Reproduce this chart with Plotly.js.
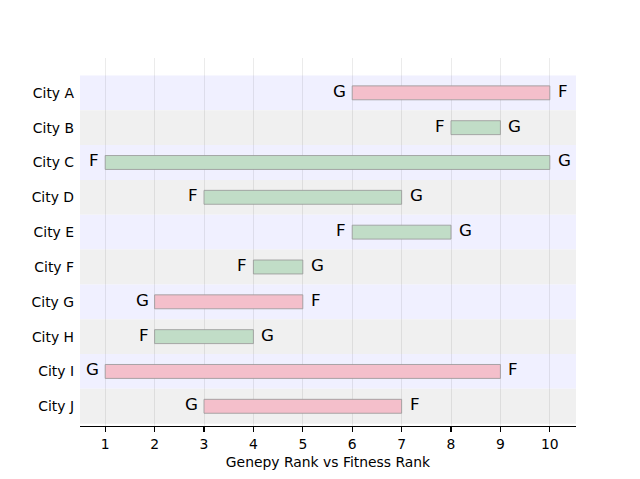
<!DOCTYPE html>
<html>
<head>
<meta charset="utf-8">
<script src="https://cdn.plot.ly/plotly-3.0.1.min.js"></script>
<style>html,body{margin:0;padding:0;background:#fff;}#chart{width:640px;height:479px;}</style>
</head>
<body>
<div id="chart"></div>
<script>
const cities = ["City A","City B","City C","City D","City E","City F","City G","City H","City I","City J"];
const genepyRank = [6, 9, 10, 7, 8, 5, 2, 4, 1, 3];
const fitnessRank = [10, 8, 1, 3, 6, 4, 5, 2, 9, 7];
const xTicks = [1,2,3,4,5,6,7,8,9,10];

const pink = "rgba(244,191,203,1)";
const green = "rgba(193,221,199,1)";
const bandColors = ["#f0f0ff", "#f0f0f0"];

const n = cities.length;
// City A at top
const ypos = cities.map((c, i) => n - 1 - i);

const base = cities.map((c, i) => Math.min(genepyRank[i], fitnessRank[i]));
const len = cities.map((c, i) => Math.abs(genepyRank[i] - fitnessRank[i]));
const colors = cities.map((c, i) => genepyRank[i] < fitnessRank[i] ? pink : green);

const trace = {
  type: "bar",
  orientation: "h",
  y: ypos,
  x: len,
  base: base,
  width: 0.4,
  marker: {color: colors, line: {color: "rgba(150,150,150,0.8)", width: 1}},
  hoverinfo: "none"
};

const shapes = cities.map((c, i) => ({
  type: "rect", xref: "paper", yref: "y",
  x0: 0, x1: 1, y0: ypos[i] - 0.5, y1: ypos[i] + 0.5,
  fillcolor: bandColors[i % 2], line: {width: 0}, layer: "below"
}));

const annotations = [];
cities.forEach((c, i) => {
  const gLeft = genepyRank[i] < fitnessRank[i];
  const leftLabel = gLeft ? "G" : "F";
  const rightLabel = gLeft ? "F" : "G";
  annotations.push({
    x: base[i], y: ypos[i], xref: "x", yref: "y", text: leftLabel,
    showarrow: false, xanchor: "right", yanchor: "middle", xshift: -4, yshift: 2,
    font: {family: "DejaVu Sans", size: 16.7, color: "#000"}
  });
  annotations.push({
    x: base[i] + len[i], y: ypos[i], xref: "x", yref: "y", text: rightLabel,
    showarrow: false, xanchor: "left", yanchor: "middle", xshift: 6, yshift: 2,
    font: {family: "DejaVu Sans", size: 16.7, color: "#000"}
  });
});

const layout = {
  width: 640, height: 479,
  margin: {l: 80, r: 64, t: 57.5, b: 52.7, pad: 0},
  paper_bgcolor: "#fff", plot_bgcolor: "rgba(0,0,0,0)",
  showlegend: false,
  font: {family: "DejaVu Sans", size: 13.9, color: "#000"},
  xaxis: {
    range: [0.49, 10.53], tickvals: xTicks, ticktext: xTicks.map(String),
    showgrid: true, gridcolor: "rgba(0,0,0,0.08)", gridwidth: 1,
    zeroline: false, showline: true, linecolor: "#000", linewidth: 1.1,
    ticks: "outside", ticklen: 4.9, tickwidth: 1.1, tickcolor: "#000",
    tickfont: {size: 13.9, family: "DejaVu Sans"},
    title: {text: "Genepy Rank vs Fitness Rank", font: {size: 13.9, family: "DejaVu Sans"}, standoff: 6}
  },
  yaxis: {
    range: [-0.566, 10.0], tickvals: ypos, ticktext: cities,
    showgrid: false, zeroline: false, showline: false, ticks: "",
    ticklabelstandoff: 5,
    tickfont: {size: 13.9, family: "DejaVu Sans"}
  },
  shapes: shapes,
  annotations: annotations
};

Plotly.newPlot("chart", [trace], layout, {displayModeBar: false, staticPlot: true});
</script>
</body>
</html>
